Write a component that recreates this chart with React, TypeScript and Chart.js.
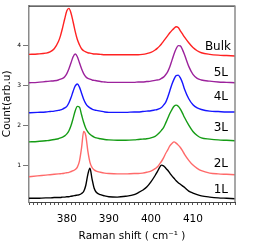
import React, { useEffect, useRef } from "react";
import { Chart, registerables } from "chart.js";

Chart.register(...registerables);

// Raman shift (cm^-1) sample positions
const wavenumbers = [
  371, 373, 375, 376, 377, 378, 378.5, 379, 379.5, 380, 380.5, 381, 381.5, 382, 382.5,
  383, 383.5, 384, 384.5, 385, 385.5, 386, 386.5, 387, 388, 389, 390, 392, 394, 396,
  397, 398, 399, 400, 401, 401.5, 402, 402.5, 403, 403.5, 404, 404.5, 405, 405.5, 406,
  406.5, 407, 407.5, 408, 409, 410, 411, 412, 414, 416, 418, 420,
];

const seriesNames = ["1L", "2L", "3L", "4L", "5L", "Bulk"];

const counts1L = [
  0.17, 0.17, 0.18, 0.18, 0.19, 0.19, 0.19, 0.2, 0.2, 0.21, 0.21, 0.22, 0.23, 0.24, 0.25,
  0.26, 0.29, 0.34, 0.49, 0.77, 0.92, 0.65, 0.42, 0.32, 0.26, 0.23, 0.21, 0.2, 0.22, 0.26,
  0.31, 0.37, 0.45, 0.58, 0.74, 0.83, 0.93, 1.0, 0.98, 0.93, 0.87, 0.8, 0.73, 0.67, 0.61,
  0.56, 0.52, 0.48, 0.44, 0.35, 0.3, 0.26, 0.23, 0.2, 0.18, 0.17, 0.16,
];
const counts2L = [
  0.71, 0.73, 0.75, 0.76, 0.77, 0.78, 0.785, 0.79, 0.8, 0.81, 0.82, 0.84, 0.86, 0.89, 0.95,
  1.1, 1.43, 1.84, 1.74, 1.35, 1.07, 0.94, 0.88, 0.85, 0.82, 0.8, 0.79, 0.78, 0.78, 0.79,
  0.79, 0.8, 0.82, 0.85, 0.91, 0.95, 1.02, 1.09, 1.18, 1.29, 1.38, 1.48, 1.54, 1.58, 1.55,
  1.5, 1.44, 1.36, 1.27, 1.12, 1.0, 0.92, 0.86, 0.8, 0.78, 0.77, 0.76,
];
const counts3L = [
  1.58, 1.59, 1.61, 1.62, 1.64, 1.66, 1.68, 1.7, 1.73, 1.78, 1.86, 1.99, 2.17, 2.36, 2.47,
  2.45, 2.26, 2.07, 1.92, 1.83, 1.77, 1.73, 1.7, 1.68, 1.66, 1.64, 1.63, 1.62, 1.62, 1.63,
  1.64, 1.65, 1.66, 1.68, 1.72, 1.76, 1.81, 1.87, 1.94, 2.05, 2.17, 2.29, 2.39, 2.47, 2.5,
  2.47, 2.4, 2.3, 2.19, 2.0, 1.84, 1.74, 1.68, 1.65, 1.63, 1.62, 1.61,
];
const counts4L = [
  2.31, 2.32, 2.33, 2.34, 2.35, 2.37, 2.38, 2.4, 2.43, 2.47, 2.56, 2.69, 2.85, 2.98, 3.03,
  2.95, 2.8, 2.65, 2.54, 2.47, 2.43, 2.4, 2.38, 2.37, 2.35, 2.33, 2.32, 2.32, 2.32, 2.33,
  2.33, 2.34, 2.35, 2.36, 2.38, 2.39, 2.41, 2.44, 2.5, 2.57, 2.7, 2.86, 3.02, 3.15, 3.24,
  3.25, 3.18, 3.06, 2.9, 2.66, 2.51, 2.43, 2.39, 2.35, 2.34, 2.33, 2.33,
];
const counts5L = [
  3.06, 3.07, 3.09, 3.1, 3.11, 3.13, 3.15, 3.17, 3.21, 3.29, 3.41, 3.56, 3.71, 3.78, 3.71,
  3.56, 3.41, 3.29, 3.21, 3.17, 3.15, 3.13, 3.12, 3.11, 3.09, 3.08, 3.07, 3.07, 3.07, 3.07,
  3.08, 3.08, 3.09, 3.1, 3.12, 3.13, 3.14, 3.17, 3.2, 3.26, 3.34, 3.46, 3.62, 3.78, 3.91,
  3.99, 3.98, 3.89, 3.76, 3.47, 3.27, 3.17, 3.13, 3.1, 3.08, 3.07, 3.06,
];
const countsBulk = [
  3.77, 3.78, 3.8, 3.83, 3.91, 4.09, 4.24, 4.44, 4.66, 4.86, 4.92, 4.8, 4.58, 4.34, 4.14,
  4.01, 3.91, 3.86, 3.83, 3.81, 3.8, 3.79, 3.78, 3.78, 3.77, 3.76, 3.76, 3.76, 3.76, 3.76,
  3.76, 3.77, 3.79, 3.82, 3.88, 3.92, 3.97, 4.03, 4.1, 4.17, 4.24, 4.31, 4.37, 4.42, 4.46,
  4.44, 4.36, 4.28, 4.2, 4.06, 3.94, 3.86, 3.81, 3.77, 3.75, 3.74, 3.73,
];

const xTickLabels = [380, 390, 400, 410];
const yTickLabels = [1, 2, 3, 4];
// vertical level (in counts) at which each series name is written
const nameLevels = [0.38, 1.03, 1.93, 2.7, 3.31, 3.96];

const X_MIN = 371;
const X_MAX = 420;
const Y_MIN = 0.077;
const Y_MAX = 4.99;

const FONT = '"DejaVu Sans", Verdana, sans-serif';

export default function App() {
  const ref = useRef<HTMLCanvasElement | null>(null);

  useEffect(() => {
    if (!ref.current) return;
    const colors = ["#000000", "#ff6a6a", "#159c15", "#1616ff", "#9c229c", "#ff2222"];
    const allSeries = [counts1L, counts2L, counts3L, counts4L, counts5L, countsBulk];
    const datasets = allSeries.map((ys, i) => ({
      label: seriesNames[i],
      data: wavenumbers.map((x, j) => ({ x, y: ys[j] })),
      borderColor: colors[i],
      backgroundColor: colors[i],
      borderWidth: 1.4,
      pointRadius: 0,
      cubicInterpolationMode: "monotone" as const,
      fill: false,
    }));

    const minorTicks: number[] = [];
    for (let v = X_MIN; v <= X_MAX; v++) minorTicks.push(v);

    const decor = {
      id: "decor",
      afterDraw(chart: any) {
        const { ctx, chartArea, scales } = chart;
        ctx.save();
        // frame: black top, grey right
        ctx.strokeStyle = "#000";
        ctx.lineWidth = 1;
        ctx.beginPath();
        ctx.moveTo(chartArea.left, chartArea.top + 0.5);
        ctx.lineTo(chartArea.right, chartArea.top + 0.5);
        ctx.stroke();
        ctx.strokeStyle = "#8a8a8a";
        ctx.lineWidth = 1.5;
        ctx.beginPath();
        ctx.moveTo(chartArea.right, chartArea.top);
        ctx.lineTo(chartArea.right, chartArea.bottom);
        ctx.stroke();
        // series names
        ctx.font = `12px ${FONT}`;
        ctx.fillStyle = "#000";
        ctx.textAlign = "right";
        ctx.textBaseline = "middle";
        seriesNames.forEach((name, i) => {
          const xr = chartArea.right - (name === "Bulk" ? 4 : 7);
          ctx.fillText(name, xr, scales.y.getPixelForValue(nameLevels[i]));
        });
        ctx.restore();
      },
    };

    const chart = new Chart(ref.current, {
      type: "line",
      data: { datasets },
      options: {
        responsive: false,
        animation: false,
        layout: { padding: { top: 5, right: 30, left: 0, bottom: 0 } },
        plugins: { legend: { display: false }, tooltip: { enabled: false } },
        scales: {
          x: {
            type: "linear",
            min: X_MIN,
            max: X_MAX,
            afterBuildTicks: (s: any) => {
              s.ticks = minorTicks.map((v) => ({ value: v }));
            },
            afterFit: (s: any) => {
              s.height = 41;
            },
            ticks: {
              autoSkip: false,
              maxRotation: 0,
              padding: 8,
              color: "#000",
              font: { family: FONT, size: 10.5 },
              callback: (v: any) => (xTickLabels.includes(Number(v)) ? String(v) : ""),
            },
            grid: { drawOnChartArea: false, tickLength: 3, tickColor: "#555", tickWidth: 1 },
            border: { color: "#444", width: 1 },
            title: {
              display: true,
              text: "Raman shift ( cm\u207B\u00B9 )",
              color: "#000",
              font: { family: FONT, size: 10.5 },
              padding: { top: 0, bottom: 0 },
            },
          },
          y: {
            type: "linear",
            min: Y_MIN,
            max: Y_MAX,
            afterBuildTicks: (s: any) => {
              s.ticks = yTickLabels.map((v) => ({ value: v }));
            },
            afterFit: (s: any) => {
              s.width = 29;
            },
            ticks: {
              padding: 2,
              color: "#000",
              font: { family: FONT, size: 6 },
            },
            grid: { drawOnChartArea: false, tickLength: 6, tickColor: "#777", tickWidth: 1 },
            border: { color: "#8a8a8a", width: 1.5 },
            title: {
              display: true,
              text: "Count(arb.u)",
              color: "#000",
              font: { family: FONT, size: 10.5 },
              padding: { top: 1, bottom: 0 },
            },
          },
        },
      },
      plugins: [decor],
    });

    return () => chart.destroy();
  }, []);

  return (
    <div style={{ position: "fixed", left: 0, top: 0, width: 265, height: 243, background: "#fff" }}>
      <canvas ref={ref} width={265} height={243} />
    </div>
  );
}
